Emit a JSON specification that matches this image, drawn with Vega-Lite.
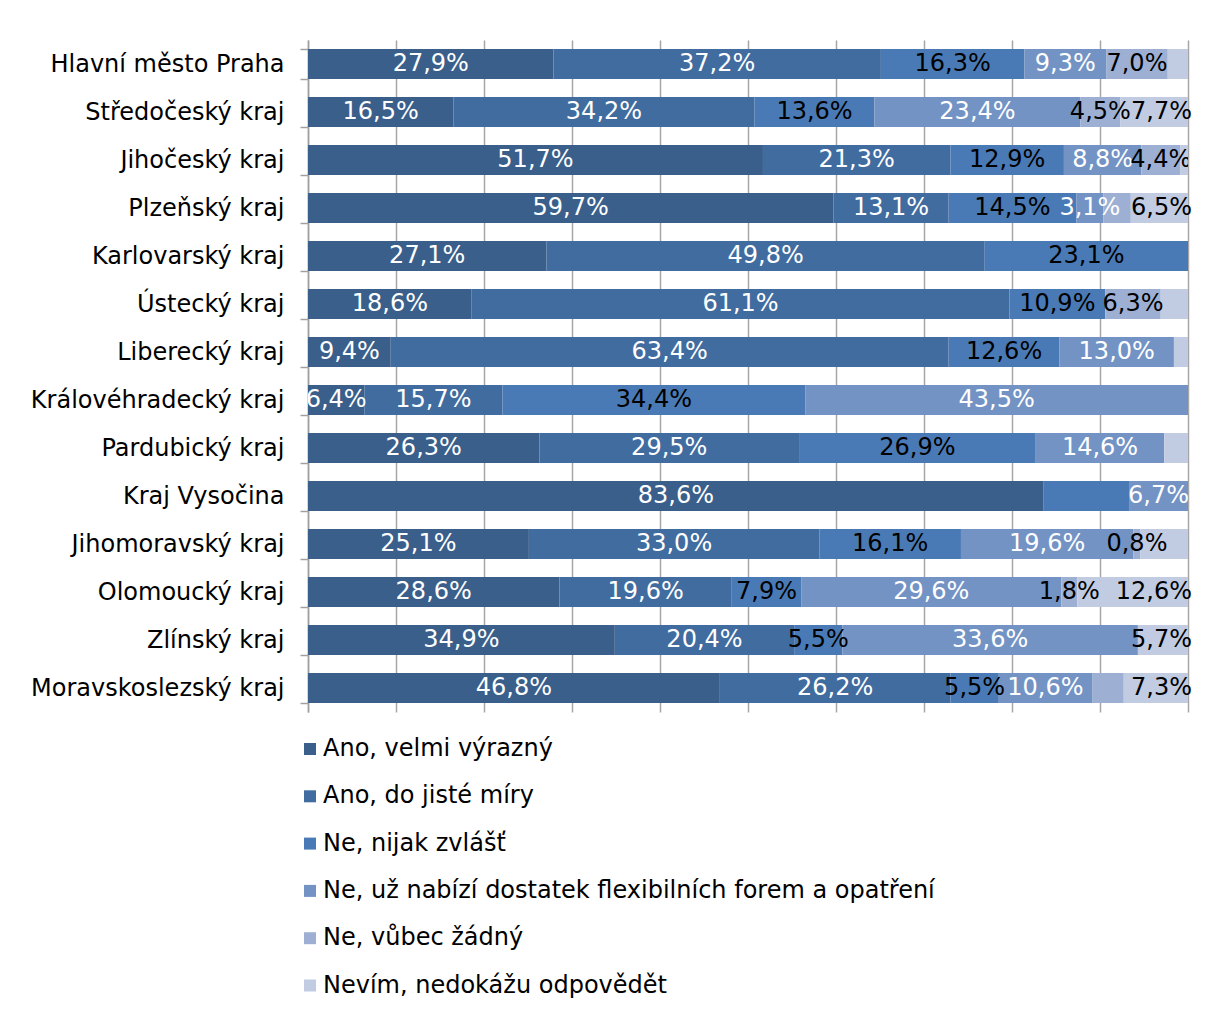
{
  "$schema": "https://vega.github.io/schema/vega-lite/v6.json",
  "width": 880,
  "height": 672,
  "autosize": {"type": "none"},
  "padding": {"left": 308, "top": 40, "right": 20, "bottom": 302},
  "background": "white",
  "config": {
    "locale": {"number": {"decimal": ",", "thousands": " ", "grouping": [3], "currency": ["", "%"]}},
    "font": "DejaVu Sans",
    "view": {"stroke": null}
  },
  "datasets": {
    "cats": [
      {"k": 1, "cat": "Ano, velmi výrazný"},
      {"k": 2, "cat": "Ano, do jisté míry"},
      {"k": 3, "cat": "Ne, nijak zvlášť"},
      {"k": 4, "cat": "Ne, už nabízí dostatek flexibilních forem a opatření"},
      {"k": 5, "cat": "Ne, vůbec žádný"},
      {"k": 6, "cat": "Nevím, nedokážu odpovědět"}
    ],
    "rows": [
      {"r": "Hlavní město Praha", "k": 1, "v": 27.9},
      {"r": "Hlavní město Praha", "k": 2, "v": 37.2},
      {"r": "Hlavní město Praha", "k": 3, "v": 16.3},
      {"r": "Hlavní město Praha", "k": 4, "v": 9.3},
      {"r": "Hlavní město Praha", "k": 5, "v": 7.0},
      {"r": "Hlavní město Praha", "k": 6, "v": 2.3, "lbl": 0},
      {"r": "Středočeský kraj", "k": 1, "v": 16.5},
      {"r": "Středočeský kraj", "k": 2, "v": 34.2},
      {"r": "Středočeský kraj", "k": 3, "v": 13.6},
      {"r": "Středočeský kraj", "k": 4, "v": 23.4},
      {"r": "Středočeský kraj", "k": 5, "v": 4.5},
      {"r": "Středočeský kraj", "k": 6, "v": 7.7},
      {"r": "Jihočeský kraj", "k": 1, "v": 51.7},
      {"r": "Jihočeský kraj", "k": 2, "v": 21.3},
      {"r": "Jihočeský kraj", "k": 3, "v": 12.9},
      {"r": "Jihočeský kraj", "k": 4, "v": 8.8},
      {"r": "Jihočeský kraj", "k": 5, "v": 4.4},
      {"r": "Jihočeský kraj", "k": 6, "v": 0.9, "lbl": 0},
      {"r": "Plzeňský kraj", "k": 1, "v": 59.7},
      {"r": "Plzeňský kraj", "k": 2, "v": 13.1},
      {"r": "Plzeňský kraj", "k": 3, "v": 14.5},
      {"r": "Plzeňský kraj", "k": 4, "v": 3.1},
      {"r": "Plzeňský kraj", "k": 5, "v": 3.1, "lbl": 0},
      {"r": "Plzeňský kraj", "k": 6, "v": 6.5},
      {"r": "Karlovarský kraj", "k": 1, "v": 27.1},
      {"r": "Karlovarský kraj", "k": 2, "v": 49.8},
      {"r": "Karlovarský kraj", "k": 3, "v": 23.1},
      {"r": "Ústecký kraj", "k": 1, "v": 18.6},
      {"r": "Ústecký kraj", "k": 2, "v": 61.1},
      {"r": "Ústecký kraj", "k": 3, "v": 10.9},
      {"r": "Ústecký kraj", "k": 5, "v": 6.3},
      {"r": "Ústecký kraj", "k": 6, "v": 3.1, "lbl": 0},
      {"r": "Liberecký kraj", "k": 1, "v": 9.4},
      {"r": "Liberecký kraj", "k": 2, "v": 63.4},
      {"r": "Liberecký kraj", "k": 3, "v": 12.6},
      {"r": "Liberecký kraj", "k": 4, "v": 13.0},
      {"r": "Liberecký kraj", "k": 6, "v": 1.6, "lbl": 0},
      {"r": "Královéhradecký kraj", "k": 1, "v": 6.4},
      {"r": "Královéhradecký kraj", "k": 2, "v": 15.7},
      {"r": "Královéhradecký kraj", "k": 3, "v": 34.4},
      {"r": "Královéhradecký kraj", "k": 4, "v": 43.5},
      {"r": "Pardubický kraj", "k": 1, "v": 26.3},
      {"r": "Pardubický kraj", "k": 2, "v": 29.5},
      {"r": "Pardubický kraj", "k": 3, "v": 26.9},
      {"r": "Pardubický kraj", "k": 4, "v": 14.6},
      {"r": "Pardubický kraj", "k": 6, "v": 2.7, "lbl": 0},
      {"r": "Kraj Vysočina", "k": 1, "v": 83.6},
      {"r": "Kraj Vysočina", "k": 3, "v": 9.7, "lbl": 0},
      {"r": "Kraj Vysočina", "k": 4, "v": 6.7},
      {"r": "Jihomoravský kraj", "k": 1, "v": 25.1},
      {"r": "Jihomoravský kraj", "k": 2, "v": 33.0},
      {"r": "Jihomoravský kraj", "k": 3, "v": 16.1},
      {"r": "Jihomoravský kraj", "k": 4, "v": 19.6},
      {"r": "Jihomoravský kraj", "k": 5, "v": 0.8},
      {"r": "Jihomoravský kraj", "k": 6, "v": 5.4, "lbl": 0},
      {"r": "Olomoucký kraj", "k": 1, "v": 28.6},
      {"r": "Olomoucký kraj", "k": 2, "v": 19.6},
      {"r": "Olomoucký kraj", "k": 3, "v": 7.9},
      {"r": "Olomoucký kraj", "k": 4, "v": 29.6},
      {"r": "Olomoucký kraj", "k": 5, "v": 1.8},
      {"r": "Olomoucký kraj", "k": 6, "v": 12.6},
      {"r": "Zlínský kraj", "k": 1, "v": 34.9},
      {"r": "Zlínský kraj", "k": 2, "v": 20.4},
      {"r": "Zlínský kraj", "k": 3, "v": 5.5},
      {"r": "Zlínský kraj", "k": 4, "v": 33.6},
      {"r": "Zlínský kraj", "k": 6, "v": 5.7},
      {"r": "Moravskoslezský kraj", "k": 1, "v": 46.8},
      {"r": "Moravskoslezský kraj", "k": 2, "v": 26.2},
      {"r": "Moravskoslezský kraj", "k": 3, "v": 5.5},
      {"r": "Moravskoslezský kraj", "k": 4, "v": 10.6},
      {"r": "Moravskoslezský kraj", "k": 5, "v": 3.6, "lbl": 0},
      {"r": "Moravskoslezský kraj", "k": 6, "v": 7.3}
    ]
  },
  "data": {"name": "rows"},
  "transform": [
    {"lookup": "k", "from": {"data": {"name": "cats"}, "key": "k", "fields": ["cat"]}},
    {"stack": "v", "groupby": ["r"], "sort": [{"field": "k", "order": "ascending"}], "as": ["x0", "x1"], "offset": "normalize"},
    {"calculate": "(datum.x0 + datum.x1) / 2", "as": "xm"}
  ],
  "encoding": {
    "y": {
      "field": "r",
      "type": "nominal",
      "sort": ["Hlavní město Praha", "Středočeský kraj", "Jihočeský kraj", "Plzeňský kraj", "Karlovarský kraj", "Ústecký kraj", "Liberecký kraj", "Královéhradecký kraj", "Pardubický kraj", "Kraj Vysočina", "Jihomoravský kraj", "Olomoucký kraj", "Zlínský kraj", "Moravskoslezský kraj"],
      "scale": {"paddingInner": 0.375, "paddingOuter": 0.1875},
      "axis": {
        "title": null,
        "labelFontSize": 24,
        "labelColor": "black",
        "labelPadding": 16,
        "tickSize": 8,
        "tickColor": "#A0A0A0",
        "tickWidth": 1.5,
        "domainColor": "#A0A0A0",
        "domainWidth": 1.5,
        "tickBand": "extent",
        "labelLimit": 400,
        "grid": false
      }
    }
  },
  "layer": [
    {
      "mark": {"type": "bar"},
      "encoding": {
        "x": {
          "field": "x0",
          "type": "quantitative",
          "scale": {"domain": [0, 1], "nice": false},
          "axis": {
            "title": null,
            "labels": false,
            "ticks": false,
            "domain": false,
            "grid": true,
            "gridColor": "#A6A6A6",
            "gridWidth": 1.5,
            "values": [0, 0.1, 0.2, 0.3, 0.4, 0.5, 0.6, 0.7, 0.8, 0.9, 1]
          }
        },
        "x2": {"field": "x1"},
        "color": {
          "field": "cat",
          "type": "nominal",
          "scale": {
            "domain": ["Ano, velmi výrazný", "Ano, do jisté míry", "Ne, nijak zvlášť", "Ne, už nabízí dostatek flexibilních forem a opatření", "Ne, vůbec žádný", "Nevím, nedokážu odpovědět"],
            "range": ["#3A5F8B", "#416C9F", "#4A7AB5", "#7393C5", "#9DB0D4", "#C1CCE3"]
          },
          "legend": {
            "title": null,
            "orient": "none",
            "legendX": -10,
            "legendY": 697,
            "direction": "vertical",
            "symbolType": "square",
            "symbolSize": 144,
            "symbolStrokeWidth": 0,
            "labelFontSize": 24,
            "labelColor": "black",
            "labelOffset": 1,
            "rowPadding": 23.3,
            "labelLimit": 900,
            "padding": 0
          }
        }
      }
    },
    {
      "transform": [{"filter": "datum.lbl !== 0 && datum.k < 6"}],
      "mark": {"type": "text", "clip": true, "fontSize": 24, "align": "center", "baseline": "middle"},
      "encoding": {
        "x": {"field": "xm", "type": "quantitative"},
        "text": {"field": "v", "type": "quantitative", "format": "$.1f"},
        "color": {"condition": {"test": "datum.k === 3 || datum.k >= 5", "value": "black"}, "value": "white"}
      }
    },
    {
      "transform": [{"filter": "datum.lbl !== 0 && datum.k === 6"}],
      "mark": {"type": "text", "clip": false, "fontSize": 24, "align": "right", "baseline": "middle", "dx": 4, "color": "black"},
      "encoding": {
        "x": {"field": "x1", "type": "quantitative"},
        "text": {"field": "v", "type": "quantitative", "format": "$.1f"}
      }
    }
  ]
}
